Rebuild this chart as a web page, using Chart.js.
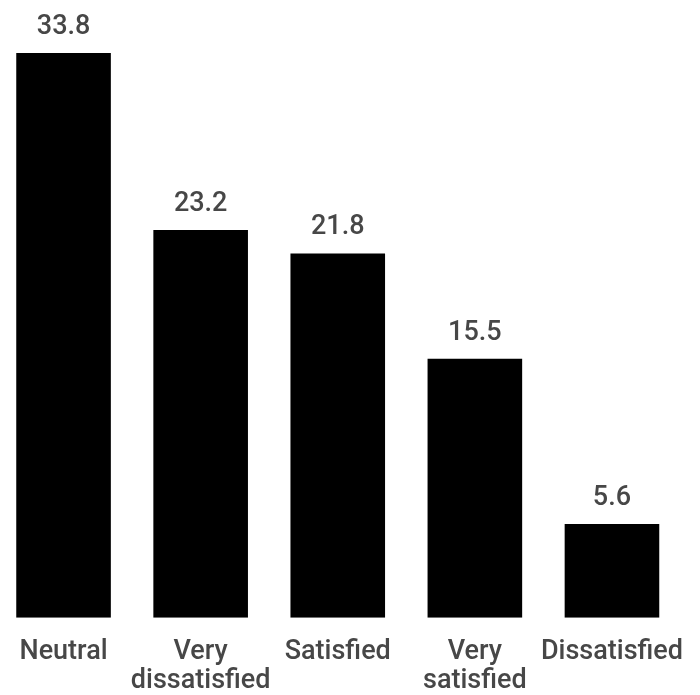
<!DOCTYPE html>
<html>
<head>
<meta charset="utf-8">
<script src="https://cdn.jsdelivr.net/npm/chart.js@4"></script>
<style>
  html, body { margin: 0; padding: 0; background: #fff; overflow: hidden; width: 700px; height: 695px; }
  #wrap { position: absolute; left: -5px; top: 0; width: 708px; height: 717px; }
</style>
</head>
<body>
<div id="wrap"><canvas id="chart"></canvas></div>
<script>
const categories = ['Neutral', ['Very', 'dissatisfied'], 'Satisfied', ['Very', 'satisfied'], 'Dissatisfied'];
const values = [33.8, 23.2, 21.8, 15.5, 5.6];

const textColor = '#474747';
const fontFamily = 'Roboto, "Noto Sans", sans-serif';

// Draws each bar's value just above it
const valueLabels = {
  id: 'valueLabels',
  afterDatasetsDraw(chart) {
    const ctx = chart.ctx;
    const meta = chart.getDatasetMeta(0);
    ctx.save();
    ctx.font = '500 27px ' + fontFamily;
    ctx.fillStyle = textColor;
    ctx.textAlign = 'center';
    ctx.textBaseline = 'alphabetic';
    meta.data.forEach((bar, i) => {
      ctx.fillText(values[i].toFixed(1), bar.x, bar.y - 19);
    });
    ctx.restore();
  }
};

new Chart(document.getElementById('chart'), {
  type: 'bar',
  data: {
    labels: categories,
    datasets: [{
      data: values,
      backgroundColor: '#000000',
      borderWidth: 0,
      categoryPercentage: 1,
      barPercentage: 0.69
    }]
  },
  options: {
    responsive: true,
    maintainAspectRatio: false,
    animation: false,
    layout: { autoPadding: false, padding: { top: 53, right: 0, bottom: 1, left: 0 } },
    plugins: { legend: { display: false }, tooltip: { enabled: false } },
    scales: {
      x: {
        grid: { display: false, drawTicks: false },
        border: { display: false },
        ticks: {
          color: textColor,
          padding: 20,
          maxRotation: 0,
          autoSkip: false,
          font: { family: fontFamily, size: 27, weight: '500', lineHeight: 1.08 }
        }
      },
      y: {
        display: false,
        min: 0,
        max: 33.8
      }
    }
  },
  plugins: [valueLabels]
});
</script>
</body>
</html>
